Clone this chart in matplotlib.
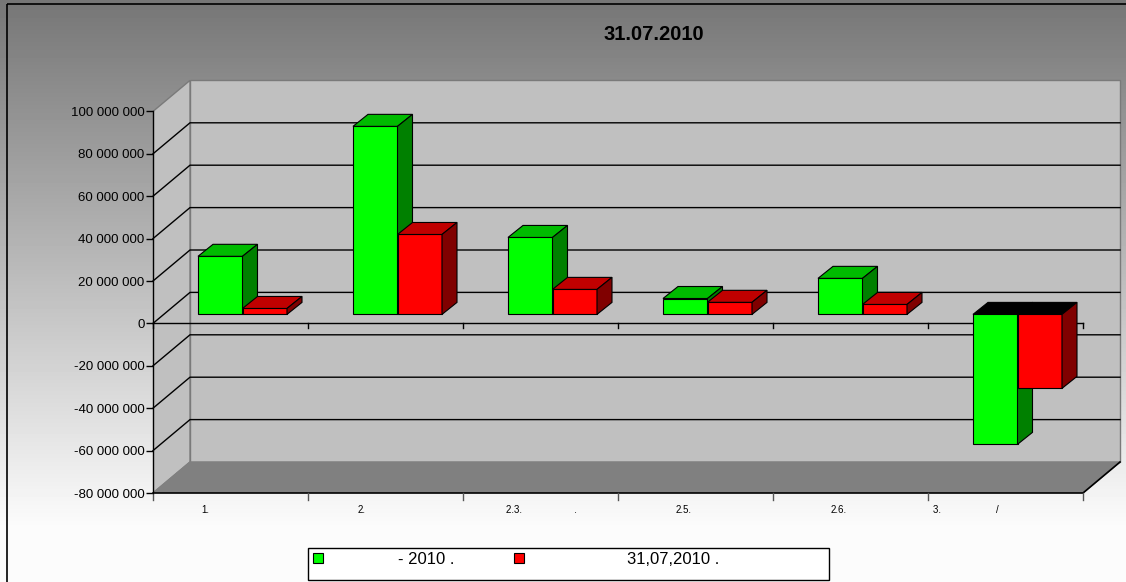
import numpy as np
import matplotlib.pyplot as plt
from matplotlib.patches import Polygon, Rectangle

# data
categories = ["1.", "2.", "2.3.                   .", "2.5.", "2.6.", "3.                    /"]
plan_2010 = [27.4e6, 88.7e6, 36.3e6, 7.5e6, 17.0e6, -61.3e6]
fact_3107 = [2.8e6, 37.7e6, 11.8e6, 5.7e6, 4.7e6, -34.9e6]
series_labels = ["- 2010 .", "31,07,2010 ."]
yticks = np.arange(-80e6, 100e6 + 1, 20e6)
title = "31.07.2010"

W, H = 1126, 582
fig = plt.figure(figsize=(W / 100, H / 100), dpi=100)
plt.rcParams['font.family'] = ['Liberation Sans', 'DejaVu Sans']

def fx(p):
    return p / W

def fy(p):
    return 1 - p / H

# gradient background
bg = fig.add_axes([0, 0, 1, 1], zorder=-10)
g = np.clip(118 + np.arange(H) * (137 / 540), 0, 252) / 255
bg.imshow(np.repeat(g[:, None], 4, axis=1), cmap='gray', vmin=0, vmax=1,
          aspect='auto', extent=[0, W, H, 0])
bg.set_xlim(0, W)
bg.set_ylim(H, 0)
bg.axis('off')
bg.add_patch(Rectangle((7, 4), W + 10, H + 10, fill=False, ec='black', lw=1.2))

# main axes: front plane x 0..6 -> 153..1083 px, value scale 42.4 px per 20M
cat_px = 155
upp = 20e6 / 42.4
x0px, ybot_px, ytop_px = 153, 493, 60
ax = fig.add_axes([fx(x0px), fy(ybot_px), (W - x0px) / W, (ybot_px - ytop_px) / H])
ymin = yticks[0]
ax.set_xlim(0, (W - x0px) / cat_px)
ax.set_ylim(ymin, ymin + (ybot_px - ytop_px) * upp)
ax.patch.set_visible(False)
for s in ['top', 'right', 'bottom']:
    ax.spines[s].set_visible(False)
ax.spines['left'].set_bounds(yticks[0], yticks[-1])
ax.spines['left'].set_linewidth(1.0)
ax.set_xticks([])
ax.set_yticks(yticks)
ax.set_yticklabels([f"{int(t):,}".replace(",", " ") for t in yticks], fontsize=9.5)
ax.tick_params(axis='y', length=5, width=1, pad=1)

n = len(categories)
DX = 37 / cat_px
DY = 31 * upp
ymax = yticks[-1]

# walls
ax.add_patch(Polygon([(DX, ymin + DY), (n + DX, ymin + DY), (n + DX, ymax + DY), (DX, ymax + DY)],
                     closed=True, fc='#c0c0c0', ec='#7a7a7a', lw=1, zorder=1))
ax.add_patch(Polygon([(0, ymin), (DX, ymin + DY), (DX, ymax + DY), (0, ymax)],
                     closed=True, fc='#c0c0c0', ec='#7a7a7a', lw=1, zorder=1))
ax.add_patch(Polygon([(0, ymin), (n, ymin), (n + DX, ymin + DY), (DX, ymin + DY)],
                     closed=True, fc='#808080', ec='#808080', lw=1, zorder=1))
ax.plot([0, n, n + DX], [ymin, ymin, ymin + DY], color='black', lw=1.2, zorder=2, clip_on=False)

# gridlines
for t in yticks[1:-1]:
    ax.plot([0, DX, n + DX], [t, t + DY, t + DY], color='black', lw=1, zorder=2, clip_on=False)

# front zero axis and ticks
ax.plot([0, n], [0, 0], color='black', lw=1, zorder=2, clip_on=False)
for i in range(n + 1):
    ax.plot([i, i], [0, -5 * upp], color='black', lw=1, zorder=2, clip_on=False)
    ax.plot([i, i], [ymin, ymin - 7 * upp], color='#555555', lw=1, zorder=2, clip_on=False)

# category labels
lab_off = [0.31, 0.32, 0.28, 0.37, 0.37, 0.03]
for i, lab in enumerate(categories):
    ax.text(i + lab_off[i], ymin - 17 * upp, lab, fontsize=7, ha='left', va='center',
            clip_on=False)

# 3d bars
bar_off = 45 / cat_px
bw = 44.5 / cat_px
base = 9 * upp
ddx = 15 / cat_px
ddy = 12 * upp
series = [(plan_2010, '#00ff00', '#00bb00', '#008000'),
          (fact_3107, '#ff0000', '#c00000', '#800000')]

z = 3
for i in range(n):
    for k, (vals, cf, ct, cs) in enumerate(series):
        v = vals[i]
        x = i + bar_off + k * bw
        ax.bar(x, v, width=bw, bottom=base, align='edge', color=cf, edgecolor='black',
               linewidth=0.8, zorder=z)
        hi = base + max(v, 0)
        lo = base + min(v, 0)
        top_c = ct if v >= 0 else 'black'
        ax.add_patch(Polygon([(x, hi), (x + bw, hi), (x + bw + ddx, hi + ddy), (x + ddx, hi + ddy)],
                             closed=True, fc=top_c, ec='black', lw=0.8, zorder=z))
        ax.add_patch(Polygon([(x + bw, lo), (x + bw, hi), (x + bw + ddx, hi + ddy), (x + bw + ddx, lo + ddy)],
                             closed=True, fc=cs, ec='black', lw=0.8, zorder=z))
        z += 1

# title
fig.text(fx(654), fy(35), title, fontsize=14.5, fontweight='bold', ha='center', va='center')

# legend
fig.patches.append(Rectangle((fx(307.5), fy(579.5)), (829 - 307.5) / W, (579.5 - 548) / H,
                             transform=fig.transFigure, fc='white', ec='black', lw=1))
sq_x = [313, 513.5]
tx_x = [398, 627]
for (vals, cf, ct, cs), sx, tx, lab in zip(series, sq_x, tx_x, series_labels):
    fig.patches.append(Rectangle((fx(sx), fy(563)), 10 / W, 10.5 / H, transform=fig.transFigure,
                                 fc=cf, ec='black', lw=0.8))
    fig.text(fx(tx), fy(563.5), lab, fontsize=12, ha='left', va='baseline')

fig.savefig('out.png', dpi=100)
